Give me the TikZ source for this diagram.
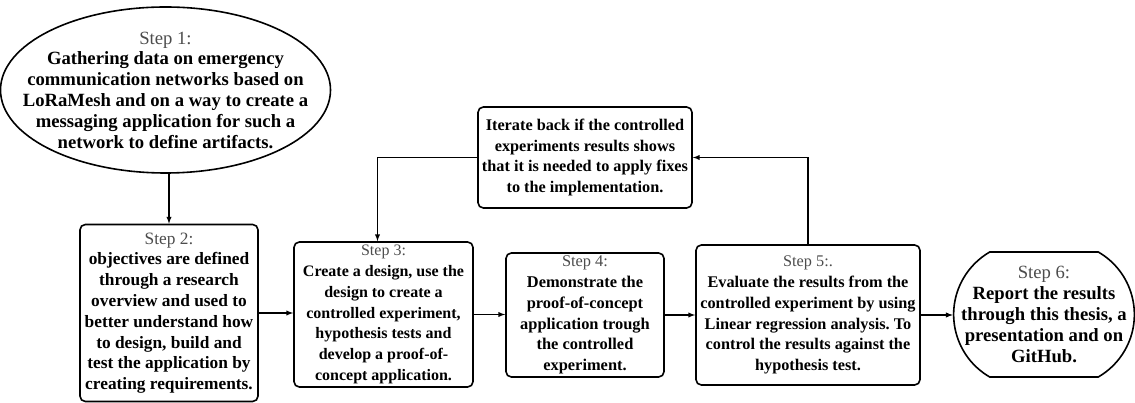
\documentclass[tikz,border=0pt]{standalone}
\usepackage{fontspec}
\setmainfont{Liberation Serif}
\usetikzlibrary{shapes.geometric, shapes.misc}
\definecolor{steptext}{gray}{0.3}
\newcommand{\steplabel}[1]{{\mdseries\color{steptext}#1}\\}
\frenchspacing

\begin{document}
\begin{tikzpicture}[x=0.75pt, y=0.75pt, >=latex,
    box/.style={draw, line width=1.2pt, rounded corners=4pt, align=center,
        inner sep=1pt, font=\fontsize{#1}{15.6}\selectfont\bfseries},
    box/.default=13,
    flow/.style={->, line width=0.8pt}]
    % Picture frame
    \useasboundingbox (0,0) rectangle (1135,403);

    % 1. Step 1 (ellipse)
    \node[box=14, ellipse, rounded corners=0pt, inner xsep=-19.5pt, inner ysep=-4pt,
        minimum width=237pt, minimum height=124.5pt]
        (e1) at (165.5,313) {\steplabel{Step 1:}Gathering data on emergency\\communication networks based on\\
        LoRaMesh and on a way to create a\\messaging application for such a\\network to define artifacts.};

    % 2. Steps 2 to 5 (boxes)
    \node[box=13, minimum width=133.5pt, minimum height=132.75pt] (s2) at (169,90)
        {\steplabel{Step 2:}objectives are defined\\through a research\\overview and used to\\better understand how\\
        to design, build and\\test the application by\\creating requirements.};
    \node[box=12, minimum width=134.25pt, minimum height=108.75pt] (s3) at (383.5,88.5)
        {\steplabel{Step 3:}Create a design, use the\\design to create a\\controlled experiment,\\
        hypothesis tests and\\develop a proof-of-\\concept application.};
    \node[box=12.3, minimum width=118.5pt, minimum height=93pt] (s4) at (585,88)
        {\steplabel{Step 4:}Demonstrate the\\proof-of-concept\\application trough\\the controlled\\experiment.};
    \node[box=12.2, minimum width=168pt, minimum height=105pt] (s5) at (808,88)
        {\steplabel{Step 5:.}Evaluate the results from the\\controlled experiment by using\\
        Linear regression analysis. To\\control the results against the\\hypothesis test.};

    % 3. Step 6 (terminal shape)
    \node[box=14, rounded rectangle, rounded corners=0pt, rounded rectangle arc length=120,
        inner xsep=-8pt, minimum width=134pt, minimum height=93.75pt] (s6) at (1044,88.5)
        {\steplabel{Step 6:}Report the results\\through this thesis, a\\presentation and on\\GitHub.};

    % 4. Iteration box
    \node[box=12.2, minimum width=160.5pt, minimum height=75.75pt] (it) at (585,245.5)
        {Iterate back if the controlled\\experiments results shows\\that it is needed to apply fixes\\to the implementation.};

    % 5. Connectors
    \draw[flow] (e1.south -| s2.north) -- (s2.north);
    \draw[flow] (s2.east) -- (s3.west |- s2.east);
    \draw[flow] (s3.east) -- (s4.west |- s3.east);
    \draw[flow] (s4.east) -- (s5.west |- s4.east);
    \draw[flow] (s5.east) -- (s6.west |- s5.east);
    \draw[flow] (s5.north) |- (it.east);
    \draw[flow] (it.west) -| ([xshift=-4.5pt]s3.north);

\end{tikzpicture}
\end{document}
